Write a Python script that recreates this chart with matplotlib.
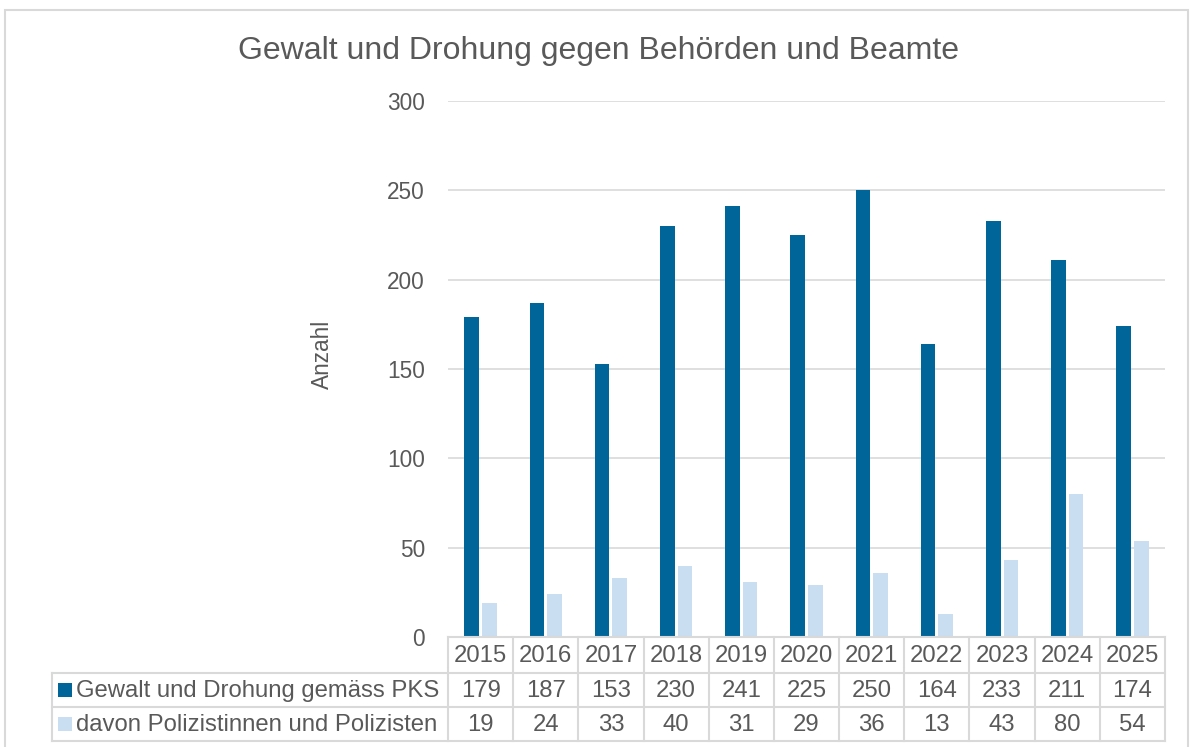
import matplotlib
matplotlib.use("Agg")
import matplotlib.pyplot as plt
import matplotlib.transforms as mtransforms
from matplotlib.patches import Rectangle
from matplotlib.lines import Line2D

years = ["2015", "2016", "2017", "2018", "2019", "2020", "2021", "2022", "2023", "2024", "2025"]
gewalt = [179, 187, 153, 230, 241, 225, 250, 164, 233, 211, 174]
polizei = [19, 24, 33, 40, 31, 29, 36, 13, 43, 80, 54]
series_names = ["Gewalt und Drohung gemäss PKS", "davon Polizistinnen und Polizisten"]
yticks = [0, 50, 100, 150, 200, 250, 300]

DARK = "#00669A"
LIGHT = "#C9DEF0"
TXT = "#595959"
GRID = "#D9D9D9"

plt.rcParams['font.family'] = ['Liberation Sans', 'DejaVu Sans']

W, H = 1190, 747
fig = plt.figure(figsize=(W / 100, H / 100), dpi=100)

def fx(px):
    return px / W

def fy(py):
    return 1 - py / H

ax_l, ax_r, ax_t, ax_b = 448, 1165, 101, 637
ax = fig.add_axes([fx(ax_l), fy(ax_b), fx(ax_r - ax_l), (ax_b - ax_t) / H])

n = len(years)
xs = list(range(n))
bw = 0.225
off = 0.135
ax.bar([x - off for x in xs], gewalt, width=bw, color=DARK, zorder=3)
ax.bar([x + off for x in xs], polizei, width=bw, color=LIGHT, zorder=3)
ax.set_xlim(-0.5, n - 0.5)
ax.set_ylim(0, 300)
ax.set_yticks(yticks)
ax.set_yticklabels([str(t) for t in yticks], fontsize=16.3, color=TXT)
ax.tick_params(axis='y', length=0, pad=16.5)
ax.set_xticks([])
ax.grid(axis='y', color=GRID, linewidth=1.2, zorder=0)
for s in ax.spines.values():
    s.set_visible(False)

# Y label
fig.text(fx(322), fy(354), "Anzahl", rotation=90, ha='center', va='center', fontsize=16.3, color=TXT)

# Title
fig.text(fx(599), fy(51), "Gewalt und Drohung gegen Behörden und Beamte",
         ha='center', va='center', fontsize=23, color=TXT)

# Data table
tr = mtransforms.blended_transform_factory(ax.transData, fig.transFigure)
y_rows = [637, 673, 707, 741]
lab_left = 52
lc = "#D9D9D9"
lw = 1.5
fig.add_artist(Line2D([-0.5, n - 0.5], [fy(y_rows[0])] * 2, transform=tr, color=lc, lw=lw))
for yy in y_rows[1:]:
    fig.add_artist(Line2D([fx(lab_left), fx(ax_r)], [fy(yy)] * 2, transform=fig.transFigure, color=lc, lw=lw))
for i in range(n + 1):
    fig.add_artist(Line2D([i - 0.5, i - 0.5], [fy(y_rows[0]), fy(y_rows[3])], transform=tr, color=lc, lw=lw))
fig.add_artist(Line2D([fx(lab_left)] * 2, [fy(y_rows[1]), fy(y_rows[3])], transform=fig.transFigure, color=lc, lw=lw))

FS = 17.2
for i, yr in enumerate(years):
    fig.text(i, fy((y_rows[0] + y_rows[1]) / 2 + 1), yr, transform=tr, ha='center', va='center', fontsize=FS, color=TXT)
    fig.text(i, fy((y_rows[1] + y_rows[2]) / 2 + 1), str(gewalt[i]), transform=tr, ha='center', va='center', fontsize=FS, color=TXT)
    fig.text(i, fy((y_rows[2] + y_rows[3]) / 2 + 1), str(polizei[i]), transform=tr, ha='center', va='center', fontsize=FS, color=TXT)

for r, (name, col) in enumerate(zip(series_names, [DARK, LIGHT])):
    yc = (y_rows[r + 1] + y_rows[r + 2]) / 2
    fig.add_artist(Rectangle((fx(58), fy(yc + 7)), fx(14), 14 / H, transform=fig.transFigure,
                             facecolor=col, edgecolor='none'))
    fig.text(fx(76), fy(yc + 1), name, ha='left', va='center', fontsize=FS, color=TXT)

# outer border
fig.add_artist(Rectangle((fx(5), fy(800)), fx(1183), (800 - 10) / H, transform=fig.transFigure,
                         facecolor='none', edgecolor=GRID, lw=1.5))

fig.savefig("out.png", dpi=100)
